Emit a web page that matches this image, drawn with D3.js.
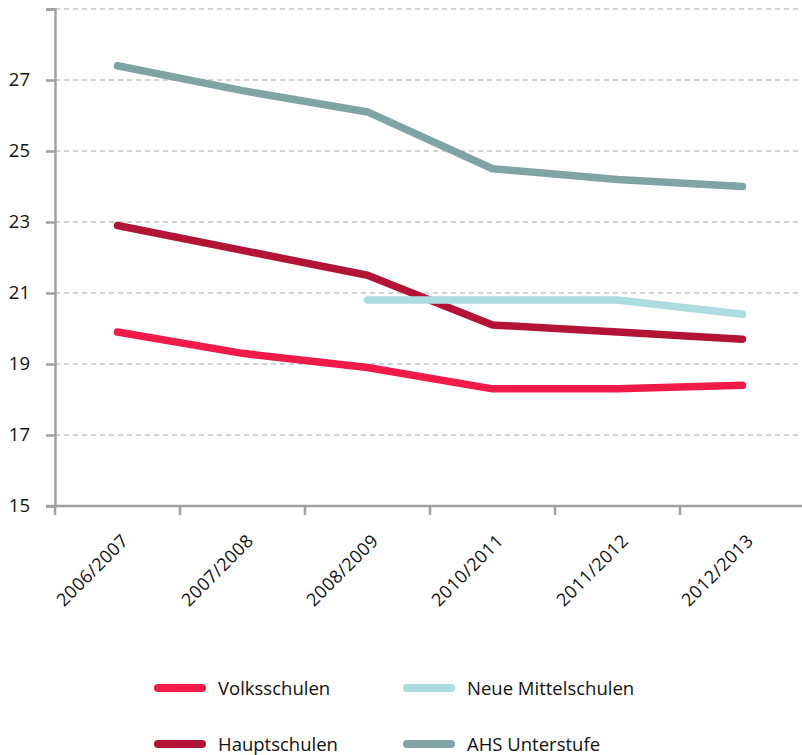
<!DOCTYPE html>
<html>
<head>
<meta charset="utf-8">
<script src="https://cdn.jsdelivr.net/npm/d3@7"></script>
<style>
  html, body { margin: 0; padding: 0; background: #fff; }
  svg { display: block; }
  text { font-family: "Open Sans", "Lato", sans-serif; fill: #111; }
</style>
</head>
<body>
<svg id="chart" width="802" height="755"></svg>
<script>
// School years on the x axis
const years = ["2006/2007", "2007/2008", "2008/2009", "2010/2011", "2011/2012", "2012/2013"];

// Average values per school type (null = no data for that year)
const volksschulen = [19.9, 19.3, 18.9, 18.3, 18.3, 18.4];
const hauptschulen = [22.9, 22.2, 21.5, 20.1, 19.9, 19.7];
const neueMittelschulen = [null, null, 20.8, 20.8, 20.8, 20.4];
const ahsUnterstufe = [27.4, 26.7, 26.1, 24.5, 24.2, 24.0];

// Y-axis ticks; the top tick carries no label
const yTicks = [15, 17, 19, 21, 23, 25, 27, 29];
const yLabels = ["15", "17", "19", "21", "23", "25", "27", ""];

const seriesNames = ["Volksschulen", "Hauptschulen", "Neue Mittelschulen", "AHS Unterstufe"];
const seriesColors = ["#f01b48", "#b31435", "#abdce0", "#80a3a6"];
const seriesValues = [volksschulen, hauptschulen, neueMittelschulen, ahsUnterstufe];

const svg = d3.select("#chart");
const plotLeft = 55, plotRight = 805, plotTop = 9, plotBottom = 506;

const x = d3.scaleBand().domain(years).range([plotLeft, plotRight]).paddingInner(0).paddingOuter(0);
const y = d3.scaleLinear().domain([15, 29]).range([plotBottom, plotTop]);

// Dashed horizontal grid
svg.append("g")
  .selectAll("line")
  .data(yTicks.filter(t => t !== 15))
  .join("line")
  .attr("x1", plotLeft).attr("x2", 802)
  .attr("y1", d => y(d)).attr("y2", d => y(d))
  .attr("stroke", "#a6a6a6")
  .attr("stroke-width", 1.2)
  .attr("stroke-dasharray", "5,4");

// Y axis
const yAxis = svg.append("g")
  .attr("transform", `translate(${plotLeft},0)`)
  .call(d3.axisLeft(y).tickValues(yTicks).tickFormat((d, i) => yLabels[i]).tickSize(9).tickPadding(16));
yAxis.select(".domain").attr("stroke", "#a0a0a0").attr("stroke-width", 2.5);
yAxis.selectAll(".tick line").attr("stroke", "#a0a0a0").attr("stroke-width", 2.5);
yAxis.selectAll(".tick text").attr("font-size", 18.5).attr("font-family", "'Open Sans', sans-serif").attr("fill", "#111");

// X axis with ticks at band boundaries
const xAxisG = svg.append("g").attr("transform", `translate(0,${plotBottom})`);
xAxisG.append("line")
  .attr("x1", plotLeft - 9).attr("x2", 802)
  .attr("stroke", "#a0a0a0").attr("stroke-width", 2.5);
xAxisG.selectAll("line.tk")
  .data(years)
  .join("line")
  .attr("class", "tk")
  .attr("x1", d => x(d)).attr("x2", d => x(d))
  .attr("y1", 0).attr("y2", 9)
  .attr("stroke", "#a0a0a0").attr("stroke-width", 2.5);
xAxisG.selectAll("text")
  .data(years)
  .join("text")
  .attr("transform", d => `translate(${x(d) + x.bandwidth() / 2 + 12},${36}) rotate(-45)`)
  .attr("text-anchor", "end")
  .attr("font-size", 18)
  .attr("letter-spacing", 0.4)
  .text(d => d);

// Lines
const line = d3.line()
  .defined(d => d.v !== null)
  .x(d => x(d.year) + x.bandwidth() / 2)
  .y(d => y(d.v));

svg.append("g")
  .selectAll("path")
  .data(seriesValues.map((vals, i) => ({ color: seriesColors[i], pts: vals.map((v, j) => ({ year: years[j], v })) })))
  .join("path")
  .attr("d", d => line(d.pts))
  .attr("fill", "none")
  .attr("stroke", d => d.color)
  .attr("stroke-width", 7.5)
  .attr("stroke-linecap", "round")
  .attr("stroke-linejoin", "round");

// Legend
const legendPos = [[155, 688], [155, 744], [404, 688], [404, 744]];
const legend = svg.append("g")
  .selectAll("g")
  .data(seriesNames)
  .join("g")
  .attr("transform", (d, i) => `translate(${legendPos[i][0]},${legendPos[i][1]})`);
legend.append("line")
  .attr("x1", 3).attr("x2", 47)
  .attr("stroke", (d, i) => seriesColors[i])
  .attr("stroke-width", 8)
  .attr("stroke-linecap", "round");
legend.append("text")
  .attr("x", 63).attr("y", 6.5)
  .attr("font-size", 18.5)
  .text(d => d);
</script>
</body>
</html>
